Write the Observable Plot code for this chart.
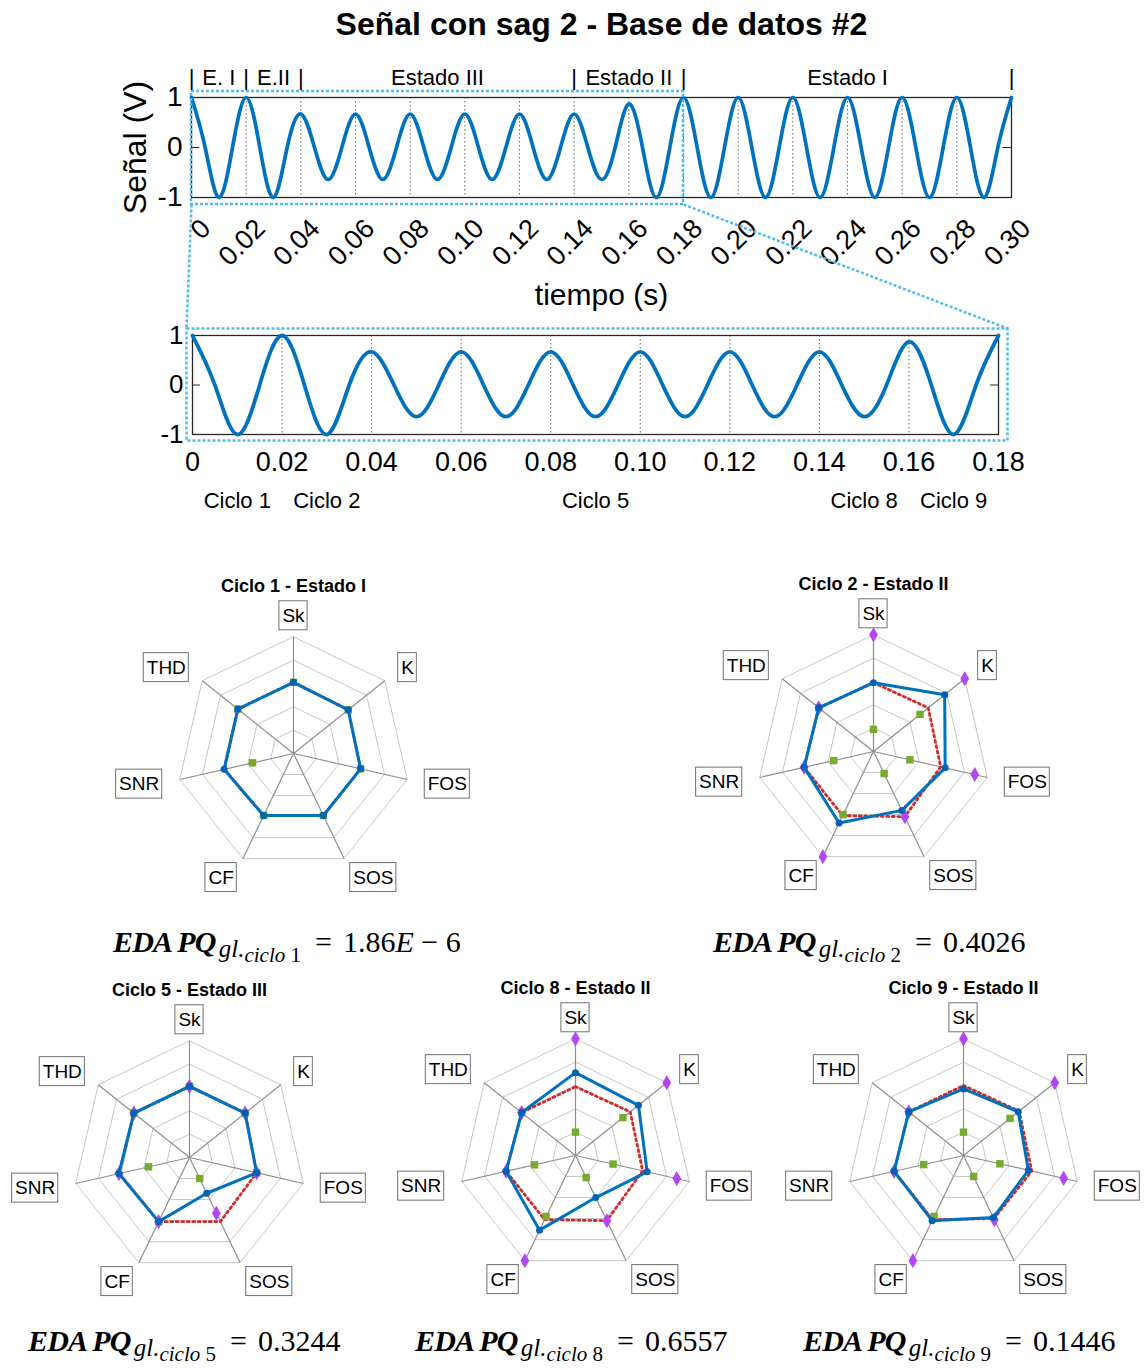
<!DOCTYPE html>
<html><head><meta charset="utf-8">
<script src="https://cdn.jsdelivr.net/npm/d3@7"></script>
<script src="https://cdn.jsdelivr.net/npm/@observablehq/plot@0.6"></script>
<style>
html,body{margin:0;padding:0;background:#fff;overflow:hidden}
#fig{position:relative;width:1145px;height:1370px;overflow:hidden;font-family:"Liberation Sans",Arial,Helvetica,sans-serif;color:#000}
#fig svg{position:absolute;background:none !important;overflow:visible}
.title{position:absolute;white-space:nowrap;font-weight:bold;font-size:32px;line-height:1;transform:translateX(-50%)}
.eq{position:absolute;white-space:nowrap;font-family:"Liberation Serif","Times New Roman",serif;font-size:30px;line-height:1}
.eq .b{font-weight:bold;font-style:italic;letter-spacing:-0.8px}
.eq .s1{font-style:italic;font-size:25px;position:relative;top:5px;margin-left:3px}
.eq .s2{font-style:italic;font-size:21px;position:relative;top:10px}
.eq .s2 .n{font-style:normal}
.eq .eqs{margin:0 11px 0 14px}
</style></head>
<body><div id="fig"></div>
<script>
// ---------------- DATA ----------------
const titleText = "Señal con sag 2 - Base de datos #2";
// signal samples every quarter period (5 ms): extremes and zero crossings
const signalV = [1,0,-1,0, 1,0,-1,0, 0.67,0,-0.64,0, 0.67,0,-0.64,0, 0.67,0,-0.64,0, 0.67,0,-0.64,0,
  0.67,0,-0.64,0, 0.67,0,-0.64,0, 0.87,0,-1,0, 1,0,-1,0, 1,0,-1,0, 1,0,-1,0, 1,0,-1,0, 1,0,-1,0, 1,0,-1,0, 1];
const signalT = signalV.map((_, i) => i * 0.005);
const xTicksTop = [0,0.02,0.04,0.06,0.08,0.10,0.12,0.14,0.16,0.18,0.20,0.22,0.24,0.26,0.28,0.30];
const xTickLabelsTop = ["0","0.02","0.04","0.06","0.08","0.10","0.12","0.14","0.16","0.18","0.20","0.22","0.24","0.26","0.28","0.30"];
const xTicksZoom = [0,0.02,0.04,0.06,0.08,0.10,0.12,0.14,0.16,0.18];
const xTickLabelsZoom = ["0","0.02","0.04","0.06","0.08","0.10","0.12","0.14","0.16","0.18"];
const yTicks = [1,0,-1];
const yTickLabels = ["1","0","-1"];
const stateBounds = [0,0.02,0.04,0.14,0.18,0.30];
const stateNames = ["E. I","E.II","Estado III","Estado II","Estado I"];
const zoomWindow = [0,0.18];
const cycleNames = ["Ciclo 1","Ciclo 2","Ciclo 5","Ciclo 8","Ciclo 9"];
const cycleCenters = [0.01,0.03,0.09,0.15,0.17];

const radarAxes = ["Sk","K","FOS","SOS","CF","SNR","THD"];
const gridLevels = [0.2,0.4,0.6,0.8,1.0];
const radarTitles = ["Ciclo 1 - Estado I","Ciclo 2 - Estado II","Ciclo 5 - Estado III","Ciclo 8 - Estado II","Ciclo 9 - Estado II"];
const radarBlue = [
  [0.61,0.60,0.59,0.59,0.59,0.61,0.61],
  [0.59,0.78,0.63,0.56,0.68,0.61,0.60],
  [0.61,0.61,0.59,0.34,0.61,0.62,0.61],
  [0.71,0.69,0.63,0.40,0.71,0.61,0.59],
  [0.57,0.60,0.57,0.59,0.62,0.61,0.60]];
const radarRed = [
  [0.61,0.60,0.59,0.59,0.59,0.61,0.61],
  [0.59,0.60,0.59,0.62,0.61,0.61,0.60],
  [0.61,0.61,0.59,0.61,0.61,0.62,0.61],
  [0.59,0.60,0.59,0.62,0.61,0.61,0.59],
  [0.60,0.61,0.60,0.60,0.61,0.61,0.60]];
const radarGreen = [
  [0.61,0.60,0.59,0.59,0.59,0.36,0.61],
  [0.19,0.51,0.32,0.21,0.60,0.35,0.60],
  [0.61,0.61,0.59,0.20,0.61,0.36,0.61],
  [0.20,0.52,0.33,0.21,0.58,0.36,0.59],
  [0.20,0.51,0.32,0.20,0.58,0.35,0.60]];
const radarPurple = [
  [],
  [1.00,1.00,0.89,0.62,1.00,0.61,0.60],
  [0.61,0.61,0.59,0.53,0.61,0.62,0.61],
  [1.00,1.00,0.89,0.62,1.00,0.61,0.59],
  [1.00,1.00,0.88,0.61,1.00,0.61,0.60]];
const eqCycles = ["1","2","5","8","9"];
const eqValues = ["1.86E − 6","0.4026","0.3244","0.6557","0.1446"];

// ---------------- LAYOUT / STYLE ----------------
const FONT = '"Liberation Sans", Arial, Helvetica, sans-serif';
const BLUE = "#0072BD", LBLUE = "#4DBEEE";
const fig = document.getElementById("fig");
function place(el, left, top){ el.style.left = left + "px"; el.style.top = top + "px"; fig.appendChild(el); return el; }
const lin = (s, v) => s.range[0] + (v - s.domain[0]) / (s.domain[1] - s.domain[0]) * (s.range[1] - s.range[0]);

// Title
const t = document.createElement("div"); t.className = "title"; t.textContent = titleText;
place(t, 601.5, 8);

const signal = signalT.map((tt, i) => ({t: tt, v: signalV[i]}));

// ---------------- TOP PLOT ----------------
const topPlot = Plot.plot({
  width: 1145, height: 320,
  marginLeft: 191, marginRight: 134, marginTop: 97, marginBottom: 123,
  x: {domain: [0, 0.3], axis: null},
  y: {domain: [-1, 1], axis: null},
  style: {fontFamily: FONT, background: "none", color: "#000"},
  marks: [
    Plot.ruleX(xTicksTop.slice(1, -1), {stroke: "#666", strokeDasharray: "1.5,2.5", strokeWidth: 1}),
    Plot.ruleY([0], {x1: 0, x2: 0.003, stroke: "#262626"}),
    Plot.ruleY([0], {x1: 0.297, x2: 0.3, stroke: "#262626"}),
    Plot.frame({stroke: "#262626", strokeWidth: 1.3}),
    Plot.line(signal, {x: "t", y: "v", curve: "natural", stroke: BLUE, strokeWidth: 3.7}),
    Plot.rect([zoomWindow], {x1: d => d[0], x2: d => d[1], y1: -1, y2: 1, insetTop: -6, insetBottom: -7,
      fill: "none", stroke: LBLUE, strokeWidth: 2.5, strokeDasharray: "3,2"}),
    Plot.text(stateBounds, {x: d => d, y: 1, text: () => "|", dy: -20, fontSize: 22}),
    Plot.text(stateNames, {x: (d, i) => (stateBounds[i] + stateBounds[i + 1]) / 2, y: 1, text: d => d, dy: -20, fontSize: 22}),
    Plot.text(yTicks, {y: d => d, text: (d, i) => yTickLabels[i], frameAnchor: "left", dx: -9, textAnchor: "end", lineAnchor: "middle", fontSize: 28}),
    Plot.text(["Señal (V)"], {frameAnchor: "left", dx: -56, rotate: -90, textAnchor: "middle", lineAnchor: "middle", fontSize: 32}),
    Plot.text(xTicksTop, {x: d => d, y: -1, text: (d, i) => xTickLabelsTop[i], rotate: -45, textAnchor: "end", lineAnchor: "top", dx: 7, dy: 19, fontSize: 27}),
    Plot.text(["tiempo (s)"], {frameAnchor: "bottom", dy: 98, lineAnchor: "middle", fontSize: 30})
  ]
});
place(topPlot, 0, 0);

// ---------------- ZOOM PLOT ----------------
const ZTOP = 300;
const zoomSignal = signal.filter(d => d.t <= zoomWindow[1] + 1e-9);
const zoomPlot = Plot.plot({
  width: 1145, height: 230,
  marginLeft: 192, marginRight: 147, marginTop: 35, marginBottom: 96,
  x: {domain: zoomWindow, axis: null},
  y: {domain: [-1, 1], axis: null},
  style: {fontFamily: FONT, background: "none", color: "#000"},
  marks: [
    Plot.ruleX(xTicksZoom.slice(1, -1), {stroke: "#666", strokeDasharray: "1.5,2.5", strokeWidth: 1}),
    Plot.ruleY([0], {x1: 0, x2: 0.0018, stroke: "#262626"}),
    Plot.ruleY([0], {x1: 0.1782, x2: 0.18, stroke: "#262626"}),
    Plot.frame({stroke: "#262626", strokeWidth: 1.3}),
    Plot.line(zoomSignal, {x: "t", y: "v", curve: "natural", stroke: BLUE, strokeWidth: 3.8}),
    Plot.frame({stroke: LBLUE, strokeWidth: 2.5, strokeDasharray: "3,2", insetLeft: -6, insetRight: -9, insetTop: -7, insetBottom: -6}),
    Plot.text(yTicks, {y: d => d, text: (d, i) => yTickLabels[i], frameAnchor: "left", dx: -9, textAnchor: "end", lineAnchor: "middle", fontSize: 26}),
    Plot.text(xTicksZoom, {x: d => d, text: (d, i) => xTickLabelsZoom[i], frameAnchor: "bottom", dy: 28, lineAnchor: "middle", fontSize: 27}),
    Plot.text(cycleNames, {x: (d, i) => cycleCenters[i], text: d => d, frameAnchor: "bottom", dy: 66, lineAnchor: "middle", fontSize: 22})
  ]
});
place(zoomPlot, 0, ZTOP);

// ---------------- CONNECTOR LINES ----------------
const tX = topPlot.scale("x"), tY = topPlot.scale("y"), zX = zoomPlot.scale("x"), zY = zoomPlot.scale("y");
const connectors = [
  {x1: lin(tX, zoomWindow[0]), y1: lin(tY, -1) + 7, x2: lin(zX, zoomWindow[0]) - 6, y2: ZTOP + lin(zY, 1) - 7},
  {x1: lin(tX, zoomWindow[1]), y1: lin(tY, -1) + 7, x2: lin(zX, zoomWindow[1]) + 9, y2: ZTOP + lin(zY, 1) - 7}
];
const overlay = Plot.plot({
  width: 1145, height: 540, margin: 0,
  x: {domain: [0, 1145], range: [0, 1145], axis: null},
  y: {domain: [0, 540], range: [0, 540], axis: null},
  style: {background: "none"},
  marks: [Plot.link(connectors, {x1: "x1", y1: "y1", x2: "x2", y2: "y2", stroke: LBLUE, strokeWidth: 2.5, strokeDasharray: "3,2"})]
});
place(overlay, 0, 0);

// ---------------- RADARS ----------------
const R = 116.7, W = 370, H = 360, CX = 185, CY = 190, LAB = 1.18, PADX = 3, BOXH = 29, LFS = 19;
const radarCenters = [[292.7, 752.7], [873.3, 750.7], [188.7, 1156.7], [575.3, 1155], [963.3, 1155]];
const ang = i => Math.PI / 2 - i * 2 * Math.PI / 7;
const ctx = document.createElement("canvas").getContext("2d");
ctx.font = `${LFS}px ${FONT}`;
const P = vals => vals.map((v, i) => ({x: v * Math.cos(ang(i)), y: v * Math.sin(ang(i))}));
const closedP = vals => { const p = P(vals); return [...p, p[0]]; };

function radarPlot(k) {
  const rings = gridLevels.flatMap(L => closedP(radarAxes.map(() => L)).map(d => ({...d, L})));
  const labels = radarAxes.map((name, i) => {
    const c = Math.cos(ang(i)), s = Math.sin(ang(i));
    const anchor = c > 0.1 ? "start" : c < -0.1 ? "end" : "middle";
    const w = ctx.measureText(name).width;
    const ax = LAB * c, ay = LAB * s;
    const x0 = anchor === "start" ? ax * R : anchor === "end" ? ax * R - w : ax * R - w / 2;
    return {name, ax, ay, anchor, bx1: (x0 - PADX) / R, bx2: (x0 + w + PADX) / R, by1: ay - BOXH / 2 / R, by2: ay + BOXH / 2 / R};
  });
  const textMarks = ["start", "end", "middle"].map(a =>
    Plot.text(labels.filter(d => d.anchor === a), {x: "ax", y: "ay", text: "name", textAnchor: a, lineAnchor: "middle", fontSize: LFS}));
  return Plot.plot({
    width: W, height: H, margin: 0,
    x: {domain: [-CX / R, (W - CX) / R], range: [0, W], axis: null},
    y: {domain: [-(H - CY) / R, CY / R], range: [H, 0], axis: null},
    style: {fontFamily: FONT, background: "none", color: "#000"},
    marks: [
      Plot.line(rings, {x: "x", y: "y", z: "L", stroke: "#c8c8c8", strokeWidth: 1}),
      Plot.link(radarAxes, {x1: 0, y1: 0, x2: (d, i) => Math.cos(ang(i)), y2: (d, i) => Math.sin(ang(i)), stroke: "#8f8f8f", strokeWidth: 1.2}),
      Plot.line(closedP(radarRed[k]), {x: "x", y: "y", stroke: "#D42A2A", strokeWidth: 2.8, strokeDasharray: "2,3.5"}),
      Plot.dot(P(radarGreen[k]), {x: "x", y: "y", symbol: "square", r: 4.2, fill: "#77AC30", stroke: "none"}),
      Plot.dot(P(radarPurple[k]), {x: "x", y: "y", symbol: "diamond", r: 4.6, fill: "#B347F5", stroke: "none"}),
      Plot.line(closedP(radarBlue[k]), {x: "x", y: "y", stroke: BLUE, strokeWidth: 3, strokeLinejoin: "round"}),
      Plot.dot(P(radarBlue[k]), {x: "x", y: "y", r: 3.5, fill: "#0062B4", stroke: "none"}),
      Plot.rect(labels, {x1: "bx1", x2: "bx2", y1: "by1", y2: "by2", fill: "white", stroke: "#707070", strokeWidth: 1}),
      ...textMarks,
      Plot.text([radarTitles[k]], {frameAnchor: "top", dy: 23, lineAnchor: "middle", fontWeight: "bold", fontSize: 18})
    ]
  });
}
radarCenters.forEach(([cx, cy], k) => place(radarPlot(k), cx - CX, cy - CY));

// ---------------- EQUATIONS ----------------
const eqPos = [[113, 951], [713, 951], [28, 1350], [415, 1350], [803, 1350]];
eqCycles.forEach((c, k) => {
  const d = document.createElement("div"); d.className = "eq";
  const val = eqValues[k].replace("E", "<i>E</i>");
  d.innerHTML = `<span class="b">EDA PQ</span><span class="s1">gl.</span><span class="s2">ciclo <span class="n">${c}</span></span><span class="eqs">=</span>${val}`;
  place(d, eqPos[k][0], eqPos[k][1] - 24.5);
});
</script>
</body></html>
